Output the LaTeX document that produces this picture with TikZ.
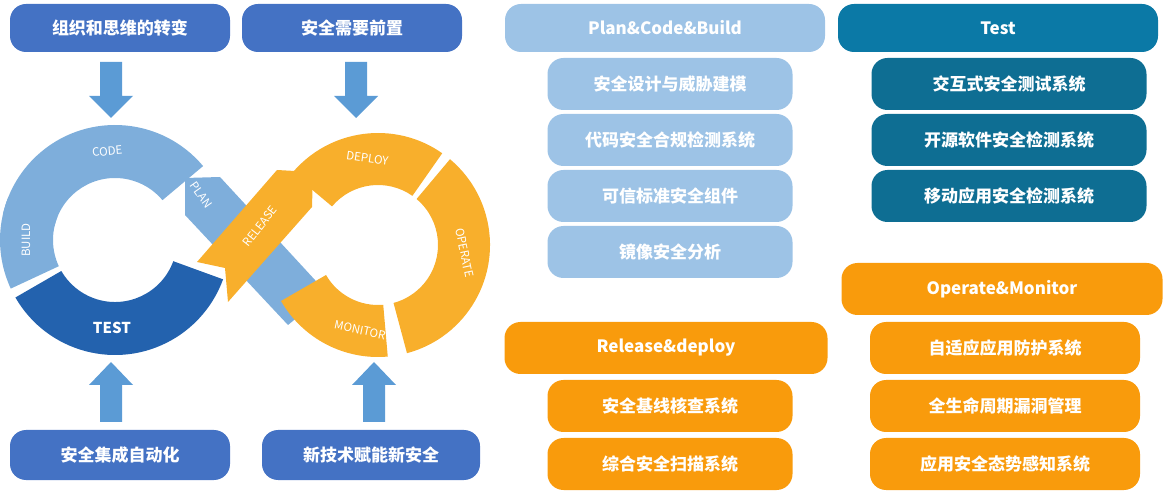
\documentclass[tikz,border=0pt]{standalone}
\usepackage{fontspec}
\setmainfont{Noto Sans CJK SC}
\usetikzlibrary{calc}
\definecolor{lb}{HTML}{7EAEDB}
\definecolor{db}{HTML}{2362AE}
\definecolor{og}{HTML}{F8AF2C}
\definecolor{hb}{HTML}{4472C4}
\definecolor{pb}{HTML}{9DC3E6}
\definecolor{tl}{HTML}{0B79A6}
\definecolor{ts}{HTML}{0E6E93}
\definecolor{oo}{HTML}{F99B0C}
\definecolor{ar}{HTML}{5B9BD5}
\tikzset{
 box/.style={rounded corners=16pt,text=white,font=\bfseries\fontsize{17}{19}\selectfont,inner sep=0pt},
 lab/.style={text=white,font=\fontsize{11.5}{12}\selectfont,inner sep=0pt},
}
\newcommand{\dnarrow}[2]{\fill[ar] (#1-11,#2+56) -- (#1+11,#2+56) -- (#1+11,#2+22) -- (#1+22,#2+22) -- (#1,#2) -- (#1-22,#2+22) -- (#1-11,#2+22) -- cycle;}
\newcommand{\uparrowx}[2]{\fill[ar] (#1-11,#2-60) -- (#1+11,#2-60) -- (#1+11,#2-23) -- (#1+22,#2-23) -- (#1,#2) -- (#1-22,#2-23) -- (#1-11,#2-23) -- cycle;}
\begin{document}
\begin{tikzpicture}[x=1pt,y=1pt]
\useasboundingbox (0,0) rectangle (1163,-494);
\coordinate (L) at (115,-240);
\coordinate (R) at (378,-245);
% plan band
\fill[lb] (185,-178) -- (220,-177) -- (327,-293) -- (288,-325) -- (185,-215) -- cycle;
% left ring
\fill[lb] (L) ++(40:115pt) arc[start angle=40,end angle=167,radius=115pt] -- ($(L)+(167:62pt)$) arc[start angle=167,end angle=40,radius=62pt] -- cycle;
\fill[lb] (L) ++(158:115pt) arc[start angle=158,end angle=205,radius=115pt] -- ($(L)+(205:62pt)$) arc[start angle=205,end angle=158,radius=62pt] -- cycle;
\fill[db] (L) ++(210:115pt) arc[start angle=210,end angle=340,radius=115pt] -- ($(L)+(340:62pt)$) arc[start angle=340,end angle=210,radius=62pt] -- cycle;
% right ring
\fill[og] (R) ++(55:112pt) arc[start angle=55,end angle=140,radius=112pt] -- ($(R)+(140:60pt)$) arc[start angle=140,end angle=55,radius=60pt] -- cycle;
\fill[og] (R) ++(-75:112pt) arc[start angle=-75,end angle=50,radius=112pt] -- ($(R)+(50:60pt)$) arc[start angle=50,end angle=-75,radius=60pt] -- cycle;
\fill[og] (R) ++(210:112pt) arc[start angle=210,end angle=275,radius=112pt] -- ($(R)+(275:60pt)$) arc[start angle=275,end angle=210,radius=60pt] -- cycle;
% release band
\fill[og] (197,-262) -- (277,-170) -- (313,-172) -- (312,-207) -- (228,-302) -- (225,-268) -- cycle;
\node[lab,rotate=5] (code) at ($(L)+(95:89pt)$) {CODE};
\node[lab,rotate=90] (build) at ($(L)+(180:89pt)$) {BUILD};
\node[lab,font=\bfseries\fontsize{15}{15}\selectfont] (test) at ($(L)+(268:88pt)$) {TEST};
\node[lab,rotate=-55] (plan) at (201,-195) {PLAN};
\node[lab,rotate=52] (rel) at (260,-226) {RELEASE};
\node[lab,rotate=-8] (dep) at ($(R)+(97:87pt)$) {DEPLOY};
\node[lab,rotate=-78] (ope) at ($(R)+(-5:87pt)$) {OPERATE};
\node[lab,rotate=-12] (mon) at ($(R)+(258:87pt)$) {MONITOR};
% arrows
\dnarrow{111}{-118}
\dnarrow{356}{-118}
\uparrowx{111}{-362}
\uparrowx{374}{-362}
% left boxes
\node[box,fill=hb,minimum width=220pt,minimum height=48pt] (b1) at (120,-28) {组织和思维的转变};
\node[box,fill=hb,minimum width=220pt,minimum height=48pt] (b2) at (352,-28) {安全需要前置};
\node[box,fill=hb,minimum width=220pt,minimum height=50pt] (b3) at (120,-455) {安全集成自动化};
\node[box,fill=hb,minimum width=218pt,minimum height=50pt] (b4) at (371,-455) {新技术赋能新安全};
% plan column
\node[box,fill=pb,minimum width=320pt,minimum height=48pt] (h1) at (665,-28) {Plan\&Code\&Build};
\foreach \y/\t [count=\i] in {84/安全设计与威胁建模,140/代码安全合规检测系统,196/可信标准安全组件,252/镜像安全分析}
  \node[box,fill=pb,minimum width=245pt,minimum height=52pt] (p\i) at (670,-\y) {\t};
% test column
\node[box,fill=tl,minimum width=320pt,minimum height=48pt] (h2) at (998,-28) {Test};
\foreach \y/\t [count=\i] in {84/交互式安全测试系统,140/开源软件安全检测系统,196/移动应用安全检测系统}
  \node[box,fill=ts,minimum width=275pt,minimum height=52pt] (t\i) at (1009,-\y) {\t};
% release column
\node[box,fill=oo,minimum width=323pt,minimum height=52pt] (h3) at (666,-348) {Release\&deploy};
\foreach \y/\t [count=\i] in {406/安全基线核查系统,464/综合安全扫描系统}
  \node[box,fill=oo,minimum width=245pt,minimum height=52pt] (r\i) at (670,-\y) {\t};
% operate column
\node[box,fill=oo,minimum width=321pt,minimum height=52pt] (h4) at (1002,-289) {Operate\&Monitor};
\foreach \y/\t [count=\i] in {348/自适应应用防护系统,406/全生命周期漏洞管理,464/应用安全态势感知系统}
  \node[box,fill=oo,minimum width=270pt,minimum height=52pt] (o\i) at (1005,-\y) {\t};
\end{tikzpicture}
\end{document}
